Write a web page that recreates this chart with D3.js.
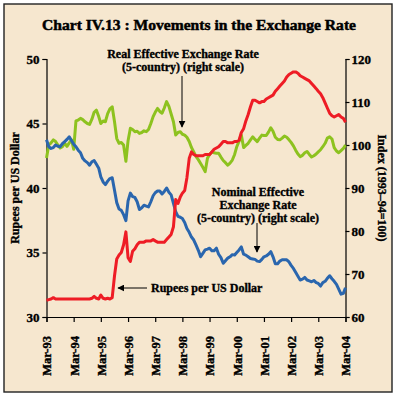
<!DOCTYPE html>
<html>
<head>
<meta charset="utf-8">
<script src="https://cdn.jsdelivr.net/npm/d3@7"></script>
<style>
  html, body { margin: 0; padding: 0; background: #fff; }
  text { font-family: "Liberation Serif", "DejaVu Serif", serif; font-weight: bold; fill: #000; stroke: #000; stroke-width: 0.35px; }
</style>
</head>
<body>
<svg id="canvas" width="395" height="394"></svg>
<script>
// ************************************************************************************************** //
// Data (monthly, Mar-93 .. Mar-04)

var start_month = new Date(1993, 2, 1);
var end_month = new Date(2004, 2, 1);
var tick_labels = ['Mar-93','Mar-94','Mar-95','Mar-96','Mar-97','Mar-98','Mar-99','Mar-00','Mar-01','Mar-02','Mar-03','Mar-04'];
var left_ticks = [30, 35, 40, 45, 50];
var right_ticks = [60, 70, 80, 90, 100, 110, 120];

// Rupees per US Dollar (left scale)
var rupees = [
  31.3, 31.35, 31.4, 31.5, 31.4, 31.4, 31.4, 31.4, 31.4, 31.4, 31.4, 31.4,
  31.4, 31.4, 31.4, 31.4, 31.4, 31.4, 31.4, 31.4, 31.45, 31.6, 31.45, 31.4,
  31.7, 31.45, 31.4, 31.45, 31.4, 31.5, 33.2, 34.5, 34.8, 35.0, 35.6, 36.6,
  34.6, 34.3, 35.1, 35.3, 35.6, 35.8, 35.8, 35.8, 35.9, 35.9, 35.9, 36.0,
  35.9, 35.8, 35.8, 35.8, 35.8, 36.0, 36.2, 36.4, 37.0, 39.1, 38.8, 39.3,
  39.6, 39.8, 40.8, 42.3, 42.8, 42.6, 42.5, 42.5, 42.5, 42.5, 42.6, 42.6,
  42.6, 42.8, 43.0, 43.1, 43.2, 43.4, 43.6, 43.6, 43.5, 43.5, 43.5, 43.6,
  43.6, 43.7, 44.3, 44.6, 45.2, 45.7, 46.3, 46.8, 46.8, 46.7, 46.6, 46.7,
  46.7, 46.9, 47.0, 47.1, 47.2, 47.5, 47.7, 47.9, 48.1, 48.3, 48.6, 48.8,
  48.9, 49.0, 49.0, 48.9, 48.7, 48.6, 48.5, 48.4, 48.3, 48.1, 47.9, 47.7,
  47.5, 47.3, 47.0, 46.6, 46.2, 45.8, 45.6, 45.5, 45.6, 45.7, 45.5, 45.4,
  45.1
];

// Real Effective Exchange Rate, 5-country (right scale)
var reer = [
  97.0, 100.0, 100.5, 101.2, 100.8, 100.0, 99.3, 99.6, 100.4, 99.7, 100.5, 101.2,
  99.0, 105.6, 105.8, 106.2, 105.9, 105.4, 105.0, 104.8, 106.0, 107.6, 108.1, 106.6,
  105.0, 105.6, 105.4, 107.3, 108.4, 108.9, 105.4, 101.5, 100.4, 100.6, 100.0, 96.2,
  101.0, 103.9, 103.6, 103.1, 103.2, 102.7, 102.9, 103.3, 103.1, 103.6, 105.0, 106.6,
  107.6, 108.5, 107.8, 107.4, 108.6, 110.1, 109.0, 107.2, 105.4, 102.3, 102.9, 103.1,
  102.5, 102.3, 101.8, 100.8, 99.4, 98.4, 97.3, 96.6, 95.7, 94.8, 93.8, 96.9,
  97.8, 98.4, 98.2, 98.1, 98.1, 97.2, 96.4, 95.9, 95.3, 95.8, 96.5, 97.8,
  99.6, 100.9, 102.3, 99.4, 99.9, 100.4, 101.2, 101.9, 101.3, 100.8, 101.6, 102.3,
  102.2, 102.2, 103.0, 104.0, 103.2, 101.8, 101.3, 101.2, 101.6, 102.1, 101.8, 101.2,
  100.6, 99.8, 98.8, 97.9, 97.3, 97.6, 98.2, 98.5, 97.8, 97.2, 97.5, 97.9,
  98.4, 98.9, 99.6, 100.4, 101.6, 101.9, 101.4, 99.4, 98.6, 98.2, 98.7, 99.2,
  100.0
];

// Nominal Effective Exchange Rate, 5-country (right scale)
var neer = [
  101.2, 99.6, 99.2, 99.4, 100.0, 99.7, 99.6, 100.3, 100.8, 101.3, 101.9, 101.0,
  100.2, 99.6, 98.8, 98.2, 96.9, 96.3, 95.9, 95.3, 96.1, 96.4, 95.5, 94.6,
  92.6, 91.4, 90.8, 91.6, 92.2, 92.4, 89.5, 86.6, 85.1, 84.8, 83.8, 82.4,
  87.0, 88.8, 88.0, 87.8, 86.8, 85.0, 85.4, 86.0, 85.8, 85.6, 86.8, 88.2,
  88.9, 89.3, 89.3, 88.6, 89.2, 90.0, 89.0, 88.4, 86.4, 84.5, 83.4, 83.2,
  82.9, 82.0, 80.6, 79.7, 78.6, 77.9, 76.7, 75.5, 74.0, 74.8, 75.6, 75.8,
  76.0, 75.4, 75.4, 76.0, 74.6, 73.8, 72.5, 73.1, 73.7, 74.0, 74.5, 74.4,
  75.0, 75.6, 76.3, 74.6, 74.4, 74.0, 73.6, 73.5, 73.4, 73.0, 72.9, 73.4,
  74.0, 74.2, 74.6, 75.2, 74.0, 72.4, 72.4, 73.0, 73.3, 73.3, 73.3, 72.8,
  72.0, 71.3, 70.4, 69.5, 68.6, 68.8, 69.2, 68.6, 68.4, 68.2, 68.5, 68.0,
  67.8, 67.2, 68.0, 68.3, 69.0, 69.6, 68.9, 68.3, 67.6, 66.5, 65.3, 65.5,
  66.8
];

var months = d3.timeMonth.range(start_month, d3.timeMonth.offset(end_month, 1));
var tick_dates = d3.timeYear.range(new Date(1993, 0, 1), new Date(2005, 0, 1)).map(d => new Date(d.getFullYear(), 2, 1));

// ************************************************************************************************** //
// Layout

var svg = d3.select('#canvas');
var bg = '#f6e7cf';
var red = '#ee1c25', green = '#8dc21f', blue = '#2a66ae';

svg.append('rect').attr('x', 4).attr('y', 4).attr('width', 388).attr('height', 388)
  .style('fill', bg).style('stroke', '#222').style('stroke-width', 1.4);

var plot = { left: 46.5, right: 345.5, top: 59, bottom: 317 };

var xScale = d3.scaleTime().domain([start_month, end_month]).range([plot.left, plot.right]);
var yLeft = d3.scaleLinear().domain([30, 50]).range([plot.bottom, plot.top]);
var yRight = d3.scaleLinear().domain([60, 120]).range([plot.bottom, plot.top]);

// ************************************************************************************************** //
// Title

svg.append('text').attr('x', 199).attr('y', 30).attr('text-anchor', 'middle')
  .attr('textLength', 314).attr('lengthAdjust', 'spacingAndGlyphs')
  .style('font-size', '15px').style('stroke-width', '0.5px')
  .text('Chart IV.13 : Movements in the Exchange Rate');

// ************************************************************************************************** //
// Axes

var gL = svg.append('g').attr('transform', 'translate(' + plot.left + ',0)')
  .call(d3.axisLeft(yLeft).tickValues(left_ticks).tickSize(4).tickPadding(3));
var gR = svg.append('g').attr('transform', 'translate(' + plot.right + ',0)')
  .call(d3.axisRight(yRight).tickValues(right_ticks).tickSize(4).tickPadding(2));
var gX = svg.append('g').attr('transform', 'translate(0,' + plot.bottom + ')')
  .call(d3.axisBottom(xScale).tickValues(tick_dates).tickSize(5).tickFormat((d, i) => tick_labels[i]));

[gL, gR, gX].forEach(g => {
  g.select('.domain').style('stroke', '#000').style('stroke-width', 1.2);
  g.selectAll('.tick line').style('stroke', '#000').style('stroke-width', 1.2);
  g.selectAll('text').style('font-family', '"Liberation Serif", serif').style('font-weight', 'bold')
    .style('font-size', '13px').attr('fill', '#000');
});
gX.selectAll('text').attr('transform', 'rotate(-90)').attr('text-anchor', 'end')
  .attr('x', -19).attr('y', 0).attr('dy', '0.35em').style('font-size', '12.5px');

svg.append('text').attr('transform', 'translate(19,188) rotate(-90)').attr('text-anchor', 'middle')
  .style('font-size', '12px').text('Rupees per US Dollar');
svg.append('text').attr('transform', 'translate(378,188) rotate(90)').attr('text-anchor', 'middle')
  .style('font-size', '12px').text('Index (1993–94=100)');

// ************************************************************************************************** //
// Lines

var lineLeft = d3.line().x((d, i) => xScale(months[i])).y(d => yLeft(d));
var lineRight = d3.line().x((d, i) => xScale(months[i])).y(d => yRight(d));

svg.append('path').attr('d', lineRight(reer)).style('fill', 'none').style('stroke', green).style('stroke-width', 3).style('stroke-linejoin', 'round');
svg.append('path').attr('d', lineRight(neer)).style('fill', 'none').style('stroke', blue).style('stroke-width', 3).style('stroke-linejoin', 'round');
svg.append('path').attr('d', lineLeft(rupees)).style('fill', 'none').style('stroke', red).style('stroke-width', 3).style('stroke-linejoin', 'round');

// ************************************************************************************************** //
// Annotations

svg.append('defs').append('marker').attr('id', 'arrow').attr('viewBox', '0 0 10 10')
  .attr('refX', 9).attr('refY', 5).attr('markerWidth', 7).attr('markerHeight', 7)
  .attr('markerUnits', 'userSpaceOnUse').attr('orient', 'auto')
  .append('path').attr('d', 'M0,0 L10,5 L0,10 z').style('fill', '#000');

function label(lines, cx, y0, step){
  lines.forEach((t, i) => {
    svg.append('text').attr('x', cx).attr('y', y0 + i*step).attr('text-anchor', 'middle')
      .style('font-size', '12px').text(t);
  });
}
function arrow(x1, y1, x2, y2){
  svg.append('line').attr('x1', x1).attr('y1', y1).attr('x2', x2).attr('y2', y2)
    .attr('marker-end', 'url(#arrow)').style('stroke', '#000').style('stroke-width', 1);
}

label(['Real Effective Exchange Rate', '(5-country) (right scale)'], 183, 58, 13);
arrow(182, 76, 182, 127);

label(['Nominal Effective', 'Exchange Rate', '(5-country) (right scale)'], 258, 196, 13);
arrow(257, 223, 257, 252);

svg.append('text').attr('x', 151).attr('y', 292).style('font-size', '12px').text('Rupees per US Dollar');
arrow(147, 288, 118, 288);
</script>
</body>
</html>
